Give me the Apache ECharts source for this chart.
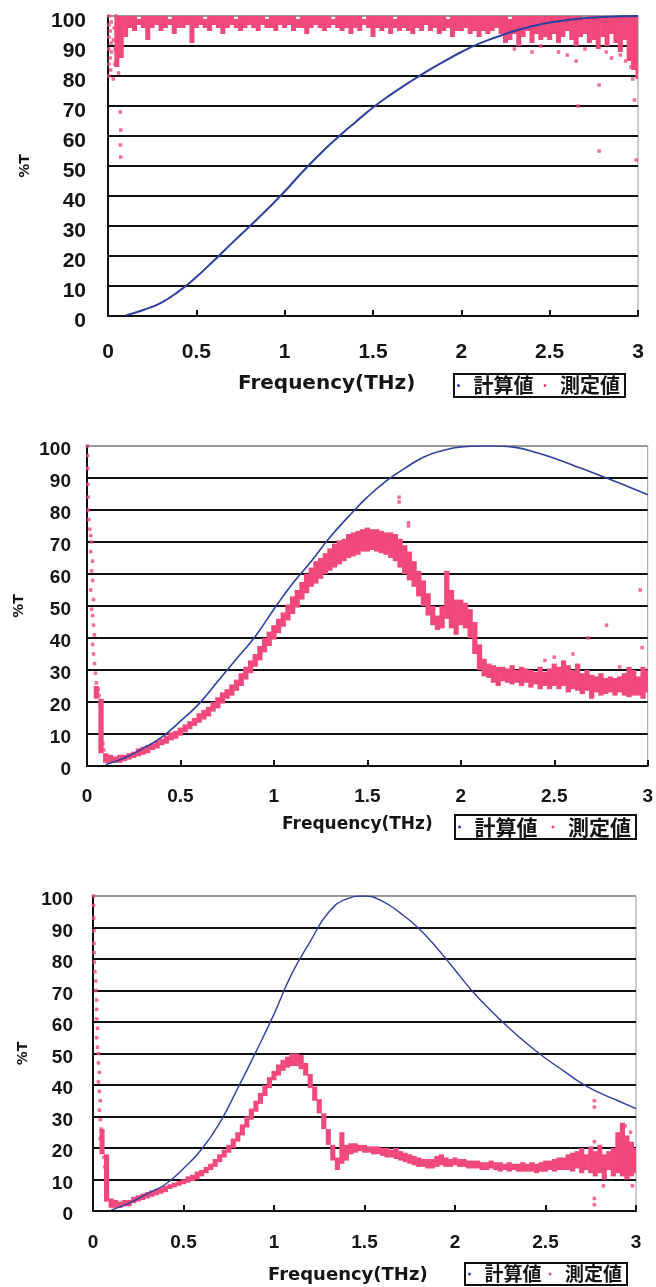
<!DOCTYPE html>
<html>
<head>
<meta charset="utf-8">
<script src="https://cdn.jsdelivr.net/npm/echarts@6/dist/echarts.min.js"></script>
<style>
html,body{margin:0;padding:0;background:#fff;}
#c{width:656px;height:1287px;}
</style>
</head>
<body>
<div id="c"></div>
<script>
// ---------- data ----------
const calcFreq = [0.1,0.2,0.3,0.4,0.5,0.6,0.7,0.8,0.9,1.0,1.1,1.2,1.3,1.4,1.5,1.6,1.7,1.8,1.9,2.0,2.1,2.2,2.3,2.4,2.5,2.6,2.7,2.8,2.9,3.0];
const calc1 = [0.2,2,4.4,8.2,13,18.5,24.2,29.8,35.5,41.5,48,54,59.5,64.6,69.5,73.8,77.7,81.4,84.8,88,90.8,93,95,96.6,97.8,98.7,99.3,99.7,99.9,100];
const calc2 = [0.5,2.5,5.5,9,14,19.5,26.5,33.5,40.5,49,57,64,71.5,78,84,89,93,96.5,98.5,99.7,100,100,99.5,98,96.2,94,91.8,89.5,87.2,84.8];
const calc3 = [0.3,2.5,5.5,8.5,13.5,19.6,28,39,50.5,62.5,75.5,85.5,94.7,99,100,98.3,94.5,89.7,83.5,76.5,69.5,63.5,58,53,48.5,44.5,40.5,37.5,35,32.5];

const measFreq = [0,0.025,0.05,0.075,0.1,0.125,0.15,0.175,0.2,0.225,
0.25,0.275,0.3,0.325,0.35,0.375,0.4,0.425,0.45,0.475,
0.5,0.525,0.55,0.575,0.6,0.625,0.65,0.675,0.7,0.725,
0.75,0.775,0.8,0.825,0.85,0.875,0.9,0.925,0.95,0.975,
1,1.025,1.05,1.075,1.1,1.125,1.15,1.175,1.2,1.225,
1.25,1.275,1.3,1.325,1.35,1.375,1.4,1.425,1.45,1.475,
1.5,1.525,1.55,1.575,1.6,1.625,1.65,1.675,1.7,1.725,
1.75,1.775,1.8,1.825,1.85,1.875,1.9,1.925,1.95,1.975,
2,2.025,2.05,2.075,2.1,2.125,2.15,2.175,2.2,2.225,
2.25,2.275,2.3,2.325,2.35,2.375,2.4,2.425,2.45,2.475,
2.5,2.525,2.55,2.575,2.6,2.625,2.65,2.675,2.7,2.725,
2.75,2.775,2.8,2.825,2.85,2.875,2.9,2.925,2.95,2.975,
3];

// chart 1 measured band (low / high edge of the dense cloud)
const measLo1 = [null,null,83,86,93,96,95,97,96,92,
96,97,95,96,97,94,96,96,97,91,
96,97,96,95,97,96,94,96,97,96,
95,96,97,96,95,97,96,96,95,97,
96,97,95,96,96,94,96,97,96,95,
96,97,96,95,96,94,96,95,97,96,
93,96,95,96,94,96,95,96,95,94,
96,95,97,95,96,94,95,96,93,95,
95,96,94,95,93,95,94,95,96,94,
91,92,94,90,93,95,91,94,92,93,
92,94,91,93,95,92,90,93,94,91,
92,89,93,90,94,91,88,92,85,82,
79];
const measHi1 = [null,null,100,100,100,100,100,99,100,100,
100,100,100,100,99,100,100,100,100,100,
100,100,99,100,100,100,100,100,100,99,
100,100,100,100,100,100,99,100,100,100,
100,100,100,99,100,100,100,100,100,100,
100,99,100,100,100,100,100,100,99,100,
100,100,100,100,100,99,100,100,100,100,
100,100,100,100,100,100,100,99,100,100,
100,100,100,100,100,100,100,100,100,100,
100,99,100,100,100,100,100,100,100,100,
100,100,100,100,100,100,100,100,99,100,
100,100,100,100,100,100,100,100,100,100,
100];
const measPts1 = [[0.005,80],[0.005,84],[0.005,89],[0.005,93],[0.005,97],[0.005,100],[0.012,86],[0.012,95],[0.018,91],[0.018,98],[0.02,88],[0.015,82],[0.03,79],[0.03,92],[0.035,96],[0.04,84],[0.04,89],[0.045,100],[0.05,86],[0.06,88],[0.07,68],[0.072,62],[0.07,57],[0.072,53],[0.06,81],[0.08,90],
[2.3,89],[2.4,88],[2.45,90],[2.55,88],[2.6,87],[2.65,85],[2.66,70],[2.7,89],[2.78,77],[2.78,55],[2.82,88],[2.85,86],[2.9,87],[2.93,85],[2.96,83],[2.98,72],[2.99,52],[2.97,79],[2.95,88]];

// chart 2 measured band
const measLo2 = [null,null,21,4,1,1,1,1,1.5,2,
2.5,3,3.5,4,5,5.5,6.5,7,8,8.5,
9.5,10.5,11.5,12.5,13.5,14.5,15.5,17,18,19.5,
21,22,23.5,25,27,29,31,33,35.5,37.5,
39.5,41.5,43.5,45.5,47.5,49.5,52,54,56,57,
58.5,60,61,62,63,64,65,65.5,66,67,
67,67.5,67,66.5,66,65,64,62,60,58,
56,53,50,47,44,42.5,43,46,43,41,
44,43,40,35,30,28,27.5,26,25,26.5,
26,25.5,26,25,26,24.5,25.5,24,25,24,
25,24,25,23,24,23.5,22.5,23.5,21,23,
22,22.5,23,22,23,22,21.5,22,22,21,
23];
const measHi2 = [null,null,25,21,4,3.5,3,3.5,3.5,4,
4.5,5.5,6,6.5,7,8,8.5,9.5,10.5,11,
12,13,14,15,16.5,17.5,18.5,20,21.5,23,
24,25.5,27,29,31,33,35,37.5,40,42,
44,46,48,50.5,53,55,57.5,60,62,64,
65,66.5,68,69.5,70.5,71,72.5,73,73.5,74,
74.5,74,74,73.5,73,73,72.5,71,69,67,
64,61,58,54,50,47,50,61,55,52,
52,51,49,45,38,33.5,32,31.5,31,31,
30.5,31.5,30,31,30.5,30,29.5,31,29.5,30.5,
32,31,33,31.5,30,32,29,30,28.5,28,
29,27.5,28,27.5,28,29,31,30,28,31,
30];
const measPts2 = [[0.002,100],[0.003,97],[0.004,93],[0.005,88],[0.006,84],[0.007,80],[0.01,77],[0.015,74],[0.02,72],[0.025,70],[0.02,67],[0.03,64],[0.025,61],[0.03,58],[0.02,55],[0.035,52],[0.025,49],[0.03,47],[0.035,44],[0.04,41],[0.03,38],[0.035,35],[0.04,32],[0.045,29],[0.05,26],[0.06,24],[0.065,22],[0.07,19],[0.075,16],[0.075,13],[0.08,10],[0.085,7],[0.09,5],
[1.67,84],[1.67,82.5],[1.72,76],[1.72,75],[2.78,44],[2.68,40],[2.96,55],[2.97,37],[2.5,34],[2.45,33],[2.6,35],[2.85,31]];

// chart 3 measured band
const measLo3 = [null,null,18,3,1,1,1,1.5,1.5,2.5,
3,3.5,4,4.5,5,5.5,6,7,7.5,8,
8.5,9,9.5,10,11,12,13,14,15.5,17,
18.5,20,22,24,26.5,29,31.5,34,36.5,39,
41.5,43,44.5,45.5,46,46,45,43,39,35,
31,26,21,16,13,15,16,18,18.5,19,
18.5,18.5,18,18,17.5,17,17,16.5,16,15.5,
15,14.5,14,14,13.5,13.5,14,14.5,14,14,
14.5,14,14,13.5,13.5,13.5,13,13,13.5,13,
12.5,13,12.5,13,12.5,12.5,12.5,12.5,12,12.5,
12.5,13,12.5,13,13,13,12.5,13.5,12,13,
12,11,12,10,13,11,12,11,10,11,
12];
const measHi3 = [null,null,26,18,4,3.5,3,3.5,3.5,4.5,
5,5.5,6,6.5,7,7.5,8,8.5,9,9.5,
10,11,11.5,12.5,13,14,15,16.5,18,19.5,
21,23,25,27.5,30,32.5,35,37.5,40,42.5,
44.5,46.5,48,49,50,50,49.5,47,43.5,39.5,
35.5,31,26,21,17,25,21,21.5,21.5,21,
21,20.5,20.5,20.5,20,20,19.5,20,19,18.5,
18,17.5,17,16.5,16.5,16.5,17.5,18,17,16.5,
17,16.5,16.5,16,16,16,15.5,15.5,16,15.5,
15.5,15,15.5,15,15,15.5,15,15.5,15,15.5,
16,16,16.5,17,17,18,18.5,19,20,18,
20.5,19,21,18,19,20,25,28,24,22,
20];
const measPts3 = [[0.002,100],[0.003,97],[0.004,93],[0.005,89],[0.005,85],[0.006,82],[0.007,79],[0.01,76],[0.015,73],[0.015,70],[0.02,67],[0.02,64],[0.02,61],[0.025,58],[0.02,55],[0.025,52],[0.03,50],[0.03,47],[0.035,44],[0.03,41],[0.035,38],[0.04,35],[0.035,32],[0.04,29],[0.045,26],[0.04,23],[0.05,20],[0.06,17],[0.065,14],[0.07,11],[0.075,8],[0.08,5],
[2.77,35],[2.77,33],[2.77,22],[2.77,2],[2.77,4],[2.94,27],[2.97,25],[2.82,8],[2.98,8]];

const xTicks = ['0','0.5','1','1.5','2','2.5','3'];
const yName = '%T';
const xName = 'Frequency(THz)';
const legendNames = ['計算値','測定値'];

// ---------- style ----------
const BLUE = '#2e3f9f';
const PINK = '#f2497c';
const TXT = '#151515';
const NUMFONT = 'Liberation Sans';
const CJK = 'Noto Sans CJK JP';

const grids = [
  {left:108, top:16, width:530, height:300},
  {left:87, top:446, width:568, height:320},
  {left:93, top:896, width:543, height:315}
];
const labelSize = [21,19,19];
const xMargin = [26,21,22];
const yMargin = [22,16,20];
const yLH = [10,7,8];
const nameGap = [76,61,61];
const blueW = [2,1.6,1.4];

function band(lo, hi){
  const out = [];
  for (let i=0;i<measFreq.length;i++){
    if (lo[i]==null) continue;
    out.push([measFreq[i], lo[i], hi[i]]);
  }
  return out;
}
function pairs(xs, ys){ return xs.map((x,i)=>[x, ys[i]]); }

function renderBand(params, api){
  const x = api.value(0), lo = api.value(1), hi = api.value(2);
  const top = api.coord([x, hi]);
  const bot = api.coord([x, lo]);
  const w = api.size([0.025, 0])[0] + 0.6;
  return {type:'rect', shape:{x: top[0]-w/2, y: top[1], width: w, height: Math.max(bot[1]-top[1], 2.5)}, style:{fill: PINK}};
}

const xAxes = [], yAxes = [], series = [];
const bands = [band(measLo1,measHi1), band(measLo2,measHi2), band(measLo3,measHi3)];
const pts = [measPts1, measPts2, measPts3];
const calcs = [calc1, calc2, calc3];
const splitColors = ['#111','#111','#111','#111','#111','#111','#111','#111','#111','#111','#9a9a9a'];

for (let k=0;k<3;k++){
  xAxes.push({
    gridIndex:k, type:'value', min:0, max:3, interval:0.5,
    axisLine:{show:true, onZero:false, lineStyle:{color:'#111', width:2}},
    axisTick:{show:true, inside:true, length:6, lineStyle:{color:'#111', width:2}},
    splitLine:{show:false},
    axisLabel:{margin:xMargin[k], fontFamily:NUMFONT, fontWeight:'bold', fontSize:labelSize[k], color:TXT,
      formatter:(v)=>{ const i = Math.round(v/0.5); return xTicks[i] != null ? xTicks[i] : ''; }}
  });
  yAxes.push({
    gridIndex:k, type:'value', min:0, max:100, interval:10,
    name:yName, nameLocation:'middle', nameGap:nameGap[k], nameRotate:90,
    nameTextStyle:{fontFamily:'DejaVu Sans', fontWeight:'bold', fontSize:14, color:TXT},
    axisLine:{show:true, lineStyle:{color:'#111', width:2}},
    axisTick:{show:false},
    splitLine:{show:true, lineStyle:{color:splitColors, width:2}},
    axisLabel:{margin:yMargin[k], fontFamily:NUMFONT, fontWeight:'bold', fontSize:labelSize[k], color:TXT,
      verticalAlign:'top', lineHeight:yLH[k]}
  });
  series.push({
    name:'測定値', type:'custom', xAxisIndex:k, yAxisIndex:k, clip:true,
    renderItem: renderBand, encode:{x:0, y:[1,2]}, data: bands[k],
    itemStyle:{color:PINK}, silent:true, z:2
  });
  series.push({
    name:'測定値', type:'scatter', xAxisIndex:k, yAxisIndex:k, clip:true,
    symbol:'rect', symbolSize:3.5, itemStyle:{color:PINK}, data: pts[k], silent:true, z:2
  });
  series.push({
    name:'計算値', type:'line', xAxisIndex:k, yAxisIndex:k, clip:true,
    smooth:0.5, showSymbol:false, symbol:'none',
    lineStyle:{color:BLUE, width:blueW[k]}, itemStyle:{color:BLUE},
    data: pairs(calcFreq, calcs[k]), silent:true, z:3
  });
}

const legendBase = (left, top, size, gap) => ({
  left, top, orient:'horizontal', itemWidth:20, itemHeight:3, itemGap:gap,
  padding:[1,5,1,3], borderColor:'#111', borderWidth:2, backgroundColor:'#fff',
  selectedMode:false,
  textStyle:{fontFamily:CJK, fontWeight:'bold', fontSize:size, color:TXT, lineHeight:size+1},
  data:[
    {name:legendNames[0], icon:'circle', itemStyle:{color:BLUE}},
    {name:legendNames[1], icon:'circle', itemStyle:{color:PINK}}
  ]
});

const chart = echarts.init(document.getElementById('c'), null, {renderer:'canvas'});
chart.setOption({
  animation:false,
  backgroundColor:'#fff',
  grid: grids.map(g=>Object.assign({show:true, borderColor:'#9a9a9a', borderWidth:1, containLabel:false}, g)),
  xAxis:xAxes, yAxis:yAxes, series,
  legend:[ legendBase(454,374,20,10), legendBase(455,815,21,14), legendBase(465,1263,19,7) ],
  graphic:[
    {type:'text', left:238, top:374, style:{text:xName, font:'bold 20px "DejaVu Sans"', fill:TXT}},
    {type:'text', left:282, top:816, style:{text:xName, font:'bold 17px "DejaVu Sans"', fill:TXT}},
    {type:'text', left:268, top:1266, style:{text:xName, font:'bold 18px "DejaVu Sans"', fill:TXT}}
  ]
});
</script>
</body>
</html>
